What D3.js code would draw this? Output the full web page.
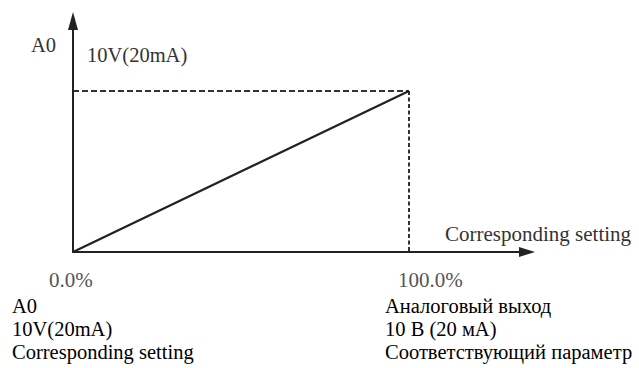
<!DOCTYPE html>
<html>
<head>
<meta charset="utf-8">
<script src="https://cdn.jsdelivr.net/npm/d3@7"></script>
<style>
  html, body { margin: 0; padding: 0; background: #fff; }
  svg { display: block; }
  text { font-family: "Liberation Serif", "Times New Roman", serif; }
</style>
</head>
<body>
<svg id="chart" width="639" height="368"></svg>
<script>
// ---- data ----
const xValues = [0, 100];          // corresponding setting, %
const yValues = [0, 10];           // analog output, V
const xTickValues = [0, 100];
const xTickLabels = ["0.0%", "100.0%"];
const yAxisLabel = "A0";
const yMaxLabel = "10V(20mA)";
const xAxisLabel = "Corresponding setting";
const notesLeft = ["A0", "10V(20mA)", "Corresponding setting"];
const notesRight = ["Аналоговый выход", "10 В (20 мА)", "Соответствующий параметр"];

// ---- layout ----
const svg = d3.select("#chart");
const x = d3.scaleLinear().domain([0, 100]).range([73, 409]);
const y = d3.scaleLinear().domain([0, 10]).range([252, 91]);
const xAxisEnd = 535, yAxisEnd = 12;
const ink = "#222";

// dashed guides
svg.append("line")
  .attr("x1", x(0)).attr("x2", x(100)).attr("y1", y(10)).attr("y2", y(10))
  .attr("stroke", "#333").attr("stroke-width", 2).attr("stroke-dasharray", "6,3");
svg.append("line")
  .attr("x1", x(100)).attr("x2", x(100)).attr("y1", y(10)).attr("y2", y(0))
  .attr("stroke", "#333").attr("stroke-width", 2).attr("stroke-dasharray", "4,2.5");

// axes
svg.append("line")
  .attr("x1", x(0)).attr("x2", xAxisEnd - 8).attr("y1", y(0)).attr("y2", y(0))
  .attr("stroke", ink).attr("stroke-width", 2);
svg.append("line")
  .attr("x1", x(0)).attr("x2", x(0)).attr("y1", y(0) + 1).attr("y2", yAxisEnd + 8)
  .attr("stroke", ink).attr("stroke-width", 2);
// arrowheads
svg.append("path")
  .attr("d", `M${xAxisEnd},${y(0)} L${xAxisEnd - 16},${y(0) - 5} L${xAxisEnd - 16},${y(0) + 5} Z`)
  .attr("fill", ink);
svg.append("path")
  .attr("d", `M${x(0)},${yAxisEnd} L${x(0) - 5},${yAxisEnd + 18} L${x(0) + 5},${yAxisEnd + 18} Z`)
  .attr("fill", ink);

// series line
const line = d3.line().x((d, i) => x(xValues[i])).y(d => y(d));
svg.append("path")
  .datum(yValues)
  .attr("d", line)
  .attr("fill", "none")
  .attr("stroke", ink)
  .attr("stroke-width", 2.2);

// chart labels
svg.append("text").attr("x", 31).attr("y", 52)
  .attr("font-size", 20.5).attr("fill", "#333").text(yAxisLabel);
svg.append("text").attr("x", x(0) + 14).attr("y", 62)
  .attr("font-size", 20.5).attr("fill", "#333").text(yMaxLabel);
svg.append("text").attr("x", 445).attr("y", 241)
  .attr("font-size", 21).attr("fill", "#333").text(xAxisLabel);

const tickOffsets = [-24, -11];
svg.selectAll("text.tick")
  .data(xTickValues)
  .enter().append("text")
  .attr("class", "tick")
  .attr("x", (d, i) => x(d) + tickOffsets[i])
  .attr("y", 287)
  .attr("font-size", 21)
  .attr("fill", "#555")
  .text((d, i) => xTickLabels[i]);

// notes below
const noteY = [313, 336, 359];
svg.selectAll("text.noteL")
  .data(notesLeft).enter().append("text")
  .attr("class", "noteL")
  .attr("x", 12).attr("y", (d, i) => noteY[i])
  .attr("font-size", 20.5).attr("fill", "#000").text(d => d);
svg.selectAll("text.noteR")
  .data(notesRight).enter().append("text")
  .attr("class", "noteR")
  .attr("x", 385).attr("y", (d, i) => noteY[i])
  .attr("font-size", 20.5).attr("fill", "#000").text(d => d);
</script>
</body>
</html>
